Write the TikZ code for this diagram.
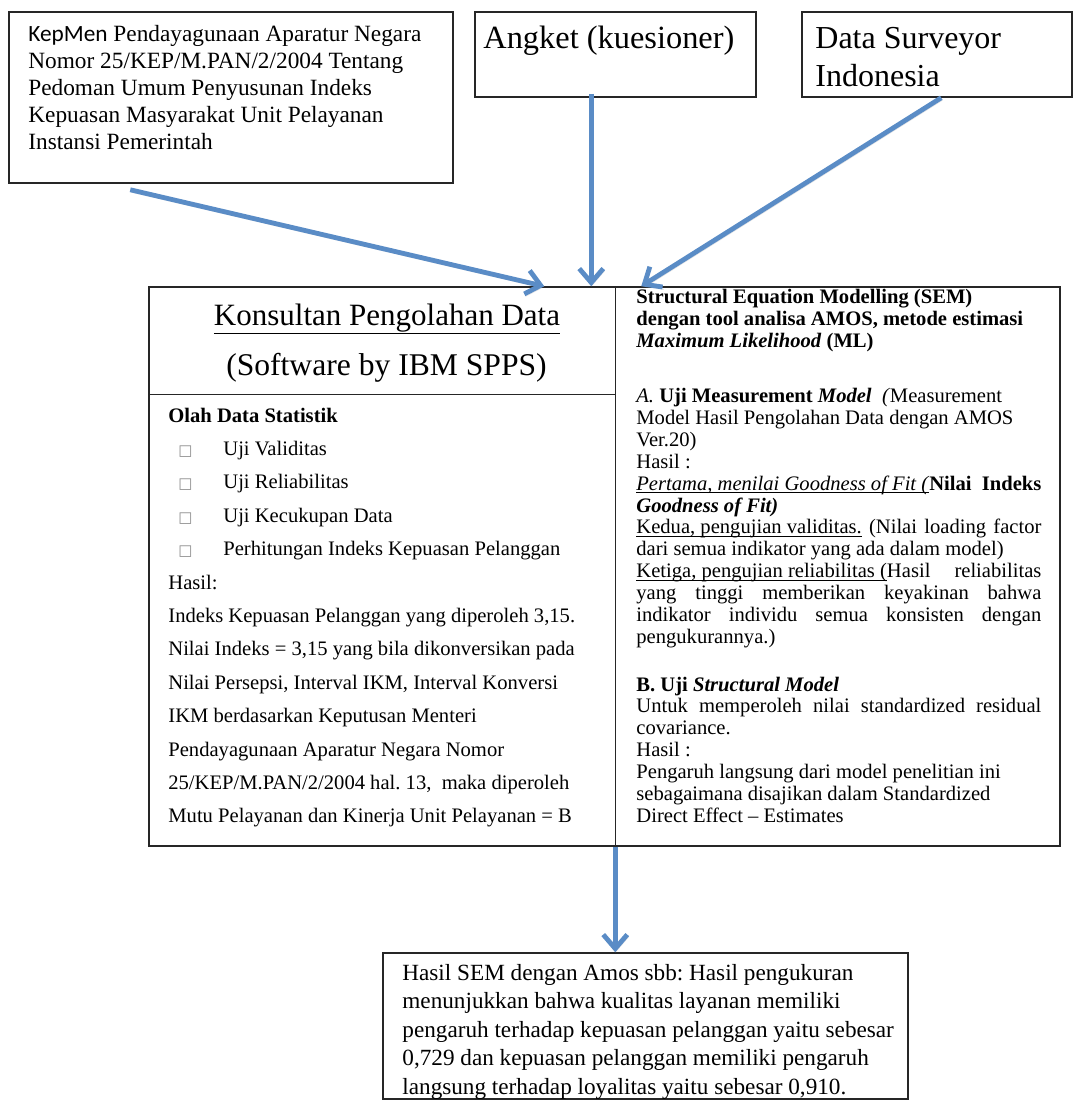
\documentclass[tikz,border=0pt]{standalone}
\usepackage{fontspec}
\setmainfont{Liberation Serif}
\newfontfamily\calibri{Carlito}
\newfontfamily\symfont{DejaVu Sans}
\usepackage{tikz}
\usetikzlibrary{arrows.meta,calc}
\definecolor{arrowblue}{RGB}{90,140,198}
\newcommand{\semW}{202.5pt}
\newcommand{\jline}[1]{{\spaceskip=0.25em plus 1em minus 0.05em\xspaceskip=0.25em plus 1em\makebox[\semW][s]{#1}}}
\newcommand{\garis}[2][-1.5pt]{\leavevmode\setbox0\hbox{#2}\rlap{\rule[#1]{\wd0}{0.45pt}}\box0}
\newcommand{\sqitem}[1]{\hspace*{5pt}\makebox[22.5pt][l]{{\symfont\fontsize{7.5}{7.5}\selectfont\color{black!45}□}}#1}

\begin{document}
\begin{tikzpicture}[x=0.5pt, y=-0.5pt,
	frame/.style={draw=black!85, line width=0.75pt},
	box/.style={frame, inner sep=0pt},
	txt/.style={anchor=base west, inner sep=0pt, execute at begin node={\spaceskip=0.25em plus 0.1em\xspaceskip=0.25em plus 0.1em}},
	flow/.style={draw=arrowblue, line width=2.4pt, -{Straight Barb[length=7pt,width=12pt]},
		preaction={draw=black!60, opacity=0.18, transform canvas={shift={(0.6pt,-1.2pt)}}}}]

		\useasboundingbox (0,0) rectangle (1074,1100);
		% Sumber data
		\node[box, minimum width=222pt, minimum height=85.5pt] (kepmen) at (231,97.5) {};
		\node[txt, text width=215pt, font=\fontsize{11.65}{13.5}\selectfont] (kepmenTxt) at (28,41.5)
			{{\calibri KepMen} Pendayagunaan Aparatur Negara\\
			Nomor 25/KEP/M.PAN/2/2004 Tentang\\
			Pedoman Umum Penyusunan Indeks\\
			Kepuasan Masyarakat Unit Pelayanan\\
			Instansi Pemerintah};
		\node[box, minimum width=140.5pt, minimum height=42.5pt] (angket) at (615.5,54.5) {};
		\node[txt, font=\fontsize{16.2}{19.3}\selectfont] (angketTxt) at (483,48) {Angket (kuesioner)};
		\node[box, minimum width=135pt, minimum height=42.5pt] (survey) at (937,54.5) {};
		\node[txt, text width=125pt, font=\fontsize{16}{19.3}\selectfont] (surveyTxt) at (815,48)
			{Data Surveyor\\Indonesia};
		% Pengolahan
		\node[box, minimum width=455.5pt, minimum height=279.5pt] (proc) at (604.5,566.5) {};
		\draw[frame] ($(proc.north west)+(467,0)$) -- ($(proc.south west)+(467,0)$);
		\draw[frame] ($(proc.north west)+(0,108)$) -- ($(proc.north west)+(467,108)$);
		\node[anchor=base, inner sep=0pt, font=\fontsize{15.5}{18}\selectfont] (judul) at (387,325)
			{\garis[-4.2pt]{Konsultan Pengolahan Data}};
		\node[anchor=base, inner sep=0pt, font=\fontsize{15.8}{18}\selectfont] (software) at (386.5,375)
			{(Software by IBM SPPS)};
		\node[txt, text width=215pt, font=\fontsize{10.3}{16.7}\selectfont] (olah) at (168,422)
			{\textbf{Olah Data Statistik}\\
			\sqitem{Uji Validitas}\\
			\sqitem{Uji Reliabilitas}\\
			\sqitem{Uji Kecukupan Data}\\
			\sqitem{Perhitungan Indeks Kepuasan Pelanggan}\\
			Hasil:\\
			Indeks Kepuasan Pelanggan yang diperoleh 3,15.\\
			Nilai Indeks = 3,15 yang bila dikonversikan pada\\
			Nilai Persepsi, Interval IKM, Interval Konversi\\
			IKM berdasarkan Keputusan Menteri\\
			Pendayagunaan Aparatur Negara Nomor\\
			25/KEP/M.PAN/2/2004 hal. 13,\ \ maka diperoleh\\
			Mutu Pelayanan dan Kinerja Unit Pelayanan = B};
		% SEM
		\node[txt, text width=\semW, font=\fontsize{10.3}{10.95}\selectfont] (semA) at (636,303.5)
			{\textbf{Structural Equation Modelling (SEM)}\\
			\textbf{dengan tool analisa AMOS, metode estimasi}\\
			\textbf{\textit{Maximum Likelihood}} \textbf{(ML)}};
		\node[txt, text width=\semW, font=\fontsize{10.3}{10.95}\selectfont] (semB) at (636,402.5)
			{\textit{A.} \textbf{Uji Measurement \textit{Model}}\ \ \textit{(}Measurement\\
			Model Hasil Pengolahan Data dengan AMOS\\
			Ver.20)\\
			Hasil :\\
			\jline{\garis{\textit{Pertama, menilai Goodness of Fit (}}\textbf{Nilai Indeks}}\\
			\textbf{\textit{Goodness of Fit)}}\\
			\jline{\garis{Kedua, pengujian validitas.}\hspace{0.25em plus 1em}(Nilai loading factor}\\
			dari semua indikator yang ada dalam model)\\
			\jline{\garis{Ketiga, pengujian reliabilitas (}Hasil reliabilitas}\\
			\jline{yang tinggi memberikan keyakinan bahwa}\\
			\jline{indikator individu semua konsisten dengan}\\
			pengukurannya.)};
		\node[txt, text width=\semW, font=\fontsize{10.3}{10.95}\selectfont] (semC) at (636,691)
			{\textbf{B. Uji \textit{Structural Model}}\\
			\jline{Untuk memperoleh nilai standardized residual}\\
			covariance.\\
			Hasil :\\
			Pengaruh langsung dari model penelitian ini\\
			sebagaimana disajikan dalam Standardized\\
			Direct Effect -- Estimates};
		% Hasil
		\node[box, minimum width=262.5pt, minimum height=73pt] (result) at (645.5,1026) {};
		\node[txt, text width=255pt, font=\fontsize{11.6}{14.25}\selectfont] (resultTxt) at (402,980)
			{Hasil SEM dengan Amos sbb: Hasil pengukuran\\
			menunjukkan bahwa kualitas layanan memiliki\\
			pengaruh terhadap kepuasan pelanggan yaitu sebesar\\
			0,729 dan kepuasan pelanggan memiliki pengaruh\\
			langsung terhadap loyalitas yaitu sebesar 0,910.};
		% Panah
		\draw[flow] ($(kepmen.south west)+(122,6)$) -- ($(proc.north west)+(396,0)$);
		\draw[flow] ($(angket.south west)+(117,-4)$) -- ($(proc.north west)+(443,0)$);
		\draw[flow] ($(survey.south west)+(140,0)$) -- ($(proc.north west)+(493,0)$);
		\draw[flow] ($(proc.south west)+(467,0)$) -- ($(result.north west)+(233,0)$);
	\end{tikzpicture}
\end{document}
